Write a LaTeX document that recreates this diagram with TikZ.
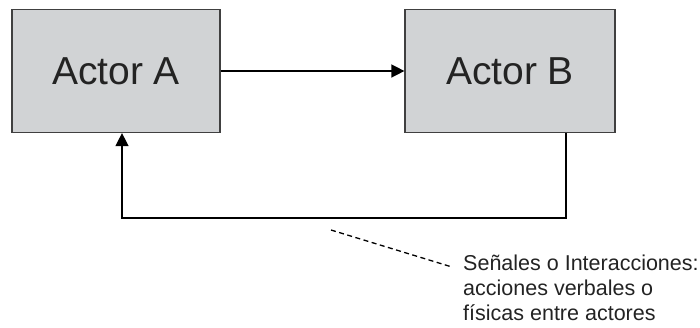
\documentclass[tikz,border=0pt]{standalone}
\usepackage{fontspec}
\setmainfont{Liberation Sans}
\usetikzlibrary{arrows.meta}
\definecolor{boxgray}{RGB}{209,211,213}
\definecolor{inkgray}{RGB}{35,35,35}

\begin{document}
\begin{tikzpicture}[x=1bp, y=-1bp,
    actor/.style={draw=black!75, line width=1.2bp, fill=boxgray, minimum width=208bp,
        minimum height=123bp, inner sep=0pt, text=inkgray,
        font=\fontsize{39bp}{44bp}\selectfont},
    link/.style={line width=1.4bp, -{Triangle[length=13bp,width=13bp]}}]
            \useasboundingbox (0, 0) rectangle (700, 327);
            \node[actor] (A) at (116, 71) {Actor A};
            \node[actor, minimum width=210bp] (B) at (510, 71) {Actor B};
            \draw[link] (A.east) -- (B.west);
            % lazo de vuelta B -> A
            \coordinate (fbR) at (566, 218);
            \coordinate (fbL) at (122, 218);
            \draw[link] (B.south -| fbR) -- (fbR) -- (fbL) -- (fbL |- A.south);
            \node[anchor=north west, inner sep=0pt, align=left, text=inkgray,
                font=\fontsize{21.5bp}{25bp}\selectfont] (txt) at (463, 255)
                {Señales o Interacciones:\\acciones verbales o\\físicas entre actores};
            \coordinate (dashS) at (331, 230);
            \coordinate (dashE) at (452, 267);
            \draw[line width=1.3bp, dash pattern=on 5bp off 3.5bp] (dashS) -- (dashE);
\end{tikzpicture}
\end{document}
